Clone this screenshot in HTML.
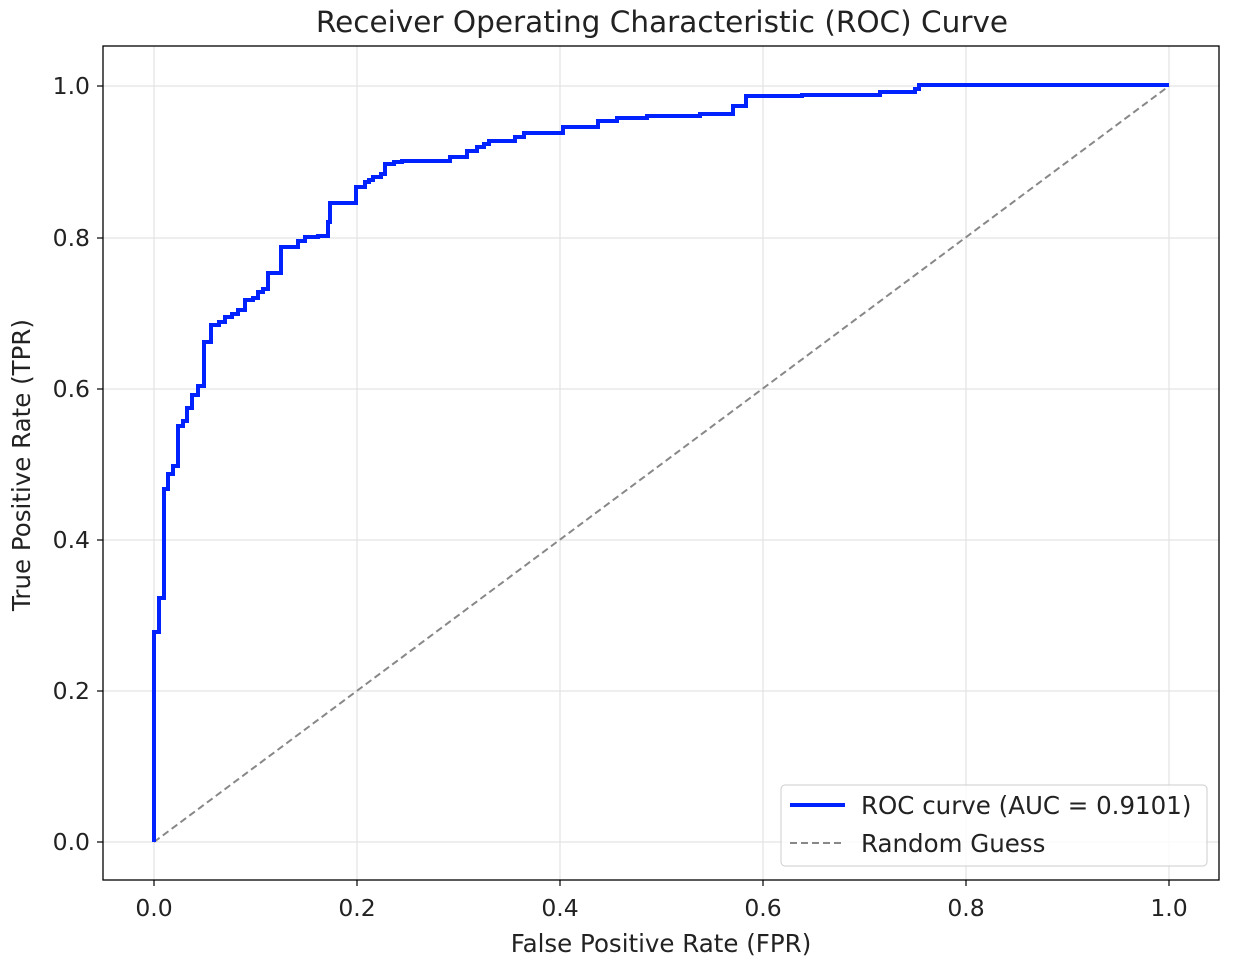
<!DOCTYPE html><html><head><style>body{margin:0;background:#fff}svg{display:block}text{font-family:"DejaVu Sans","Liberation Sans",sans-serif;fill:#222}</style></head><body>
<svg width="1234" height="974" viewBox="0 0 1234 974" xmlns="http://www.w3.org/2000/svg">
<rect width="1234" height="974" fill="#fff"/>
<g stroke="#e3e3e3" stroke-width="1.2">
<line x1="154" y1="46" x2="154" y2="880"/><line x1="357" y1="46" x2="357" y2="880"/><line x1="560" y1="46" x2="560" y2="880"/><line x1="763" y1="46" x2="763" y2="880"/><line x1="966" y1="46" x2="966" y2="880"/><line x1="1169" y1="46" x2="1169" y2="880"/>
<line x1="103" y1="842" x2="1219" y2="842"/><line x1="103" y1="691" x2="1219" y2="691"/><line x1="103" y1="540" x2="1219" y2="540"/><line x1="103" y1="389" x2="1219" y2="389"/><line x1="103" y1="238" x2="1219" y2="238"/><line x1="103" y1="86" x2="1219" y2="86"/>
</g>
<line x1="154" y1="842" x2="1169" y2="86" stroke="#888" stroke-width="2" stroke-dasharray="7,4"/>
<path d="M154,842V632H159V598H164V489H168V474H173V466H178V426H183V421H187V408H192V395H198V386H204V342H211V325H219V322H225V317H232V314H238V310H245V300H253V298H258V292H263V289H268V273H281V247H298V241H305V237H318V236H328V222H330V203H356V187H365V182H369V180H373V177H381V174H385V164H394V162H402V161H450V157H467V151H477V147H484V144H489V141H515V137H524V133H563V127H598V121H617V118H647V116H700V114H733V106H746V96H802V95H880V92H915V89H919V85H1169" fill="none" stroke="#0022ff" stroke-width="4"/>
<rect x="103" y="46" width="1116" height="834" fill="none" stroke="#000" stroke-width="1.3"/>
<g stroke="#000" stroke-width="1.2">
<line x1="154" y1="880" x2="154" y2="886"/><line x1="357" y1="880" x2="357" y2="886"/><line x1="560" y1="880" x2="560" y2="886"/><line x1="763" y1="880" x2="763" y2="886"/><line x1="966" y1="880" x2="966" y2="886"/><line x1="1169" y1="880" x2="1169" y2="886"/>
<line x1="97" y1="842" x2="103" y2="842"/><line x1="97" y1="691" x2="103" y2="691"/><line x1="97" y1="540" x2="103" y2="540"/><line x1="97" y1="389" x2="103" y2="389"/><line x1="97" y1="238" x2="103" y2="238"/><line x1="97" y1="86" x2="103" y2="86"/>
</g>
<g font-size="23.5" text-anchor="middle">
<text x="154" y="916">0.0</text><text x="357" y="916">0.2</text><text x="560" y="916">0.4</text><text x="763" y="916">0.6</text><text x="966" y="916">0.8</text><text x="1169" y="916">1.0</text>
</g>
<g font-size="23.5" text-anchor="end">
<text x="90" y="850">0.0</text><text x="90" y="699">0.2</text><text x="90" y="548">0.4</text><text x="90" y="397">0.6</text><text x="90" y="246">0.8</text><text x="90" y="94">1.0</text>
</g>
<text x="661" y="952" font-size="24.5" text-anchor="middle">False Positive Rate (FPR)</text>
<text transform="translate(30,465) rotate(-90)" font-size="24.5" text-anchor="middle">True Positive Rate (TPR)</text>
<text x="662" y="32" font-size="29.5" text-anchor="middle">Receiver Operating Characteristic (ROC) Curve</text>
<rect x="781" y="785" width="426" height="81" rx="4" fill="#fff" fill-opacity="0.8" stroke="#ccc"/>
<line x1="790" y1="805" x2="845" y2="805" stroke="#0022ff" stroke-width="4"/>
<line x1="790" y1="843" x2="845" y2="843" stroke="#888" stroke-width="2" stroke-dasharray="7,4"/>
<text x="861" y="814" font-size="24.5">ROC curve (AUC = 0.9101)</text>
<text x="861" y="852" font-size="24.5">Random Guess</text>
</svg></body></html>
